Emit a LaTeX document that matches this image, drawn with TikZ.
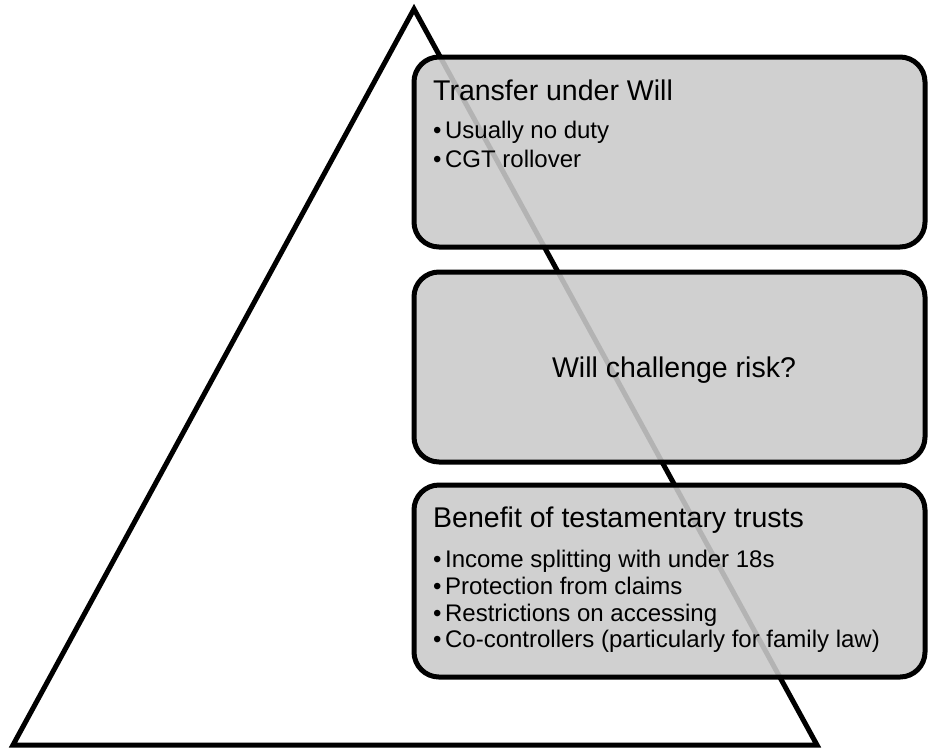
\documentclass[tikz,border=0pt]{standalone}
\usepackage{fontspec}
\setmainfont{Liberation Sans}
\definecolor{boxfill}{RGB}{202,202,202}
\begin{document}
\begin{tikzpicture}[x=1pt,y=-1pt,
  boxshape/.style={draw=black, line width=5pt, fill=boxfill, fill opacity=0.89, rounded corners=25pt},
  titletext/.style={anchor=base west, inner sep=0pt, font=\fontsize{28.5}{34}\selectfont},
  bullettext/.style={anchor=base west, inner sep=0pt, font=\fontsize{24}{28}\selectfont}]
\useasboundingbox (0,0) rectangle (928,748);
% triangle
\coordinate (apex) at (414,9);
\coordinate (bl) at (13,745);
\coordinate (br) at (817,745);
\draw[line width=5pt, line join=miter] (apex) -- (br) -- (bl) -- cycle;
% boxes
\draw[boxshape] (414,57) rectangle (925,247);
\draw[boxshape] (414,272) rectangle (925,462);
\draw[boxshape] (414,485) rectangle (925,677);
% top box text
\node[titletext] (t1) at (433,100) {Transfer under Will};
\node[bullettext] (t1a) at (433,138) {•\kern3.5pt Usually no duty};
\node[bullettext] (t1b) at (433,167) {•\kern3.5pt CGT rollover};
% middle
\node[anchor=base, inner sep=0pt, font=\fontsize{28.5}{34}\selectfont] (t2) at (674,377) {Will challenge risk?};
% bottom
\node[titletext] (t3) at (433,527) {Benefit of testamentary trusts};
\node[bullettext] (t3a) at (433,567) {•\kern3.5pt Income splitting with under 18s};
\node[bullettext] (t3b) at (433,594) {•\kern3.5pt Protection from claims};
\node[bullettext] (t3c) at (433,621) {•\kern3.5pt Restrictions on accessing};
\node[bullettext] (t3d) at (433,647) {•\kern3.5pt Co-controllers (particularly for family law)};
\end{tikzpicture}
\end{document}
